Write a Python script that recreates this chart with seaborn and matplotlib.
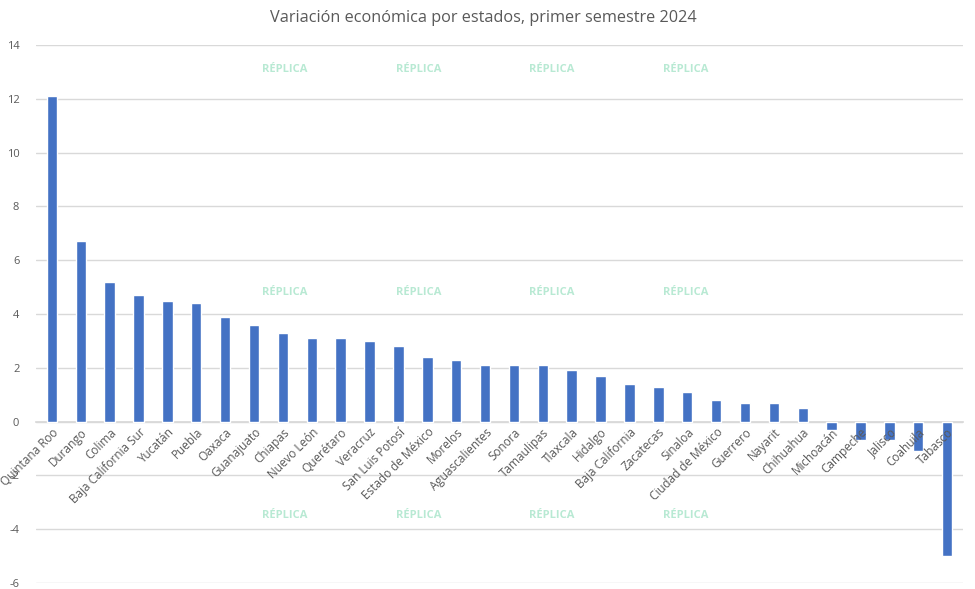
import numpy as np
import pandas as pd
import matplotlib
matplotlib.use('Agg')
import matplotlib.pyplot as plt
import seaborn as sns

# Data
estados = ['Quintana Roo', 'Durango', 'Colima', 'Baja California Sur', 'Yucatán', 'Puebla',
           'Oaxaca', 'Guanajuato', 'Chiapas', 'Nuevo León', 'Querétaro', 'Veracruz',
           'San Luis Potosí', 'Estado de México', 'Morelos', 'Aguascalientes', 'Sonora',
           'Tamaulipas', 'Tlaxcala', 'Hidalgo', 'Baja California', 'Zacatecas', 'Sinaloa',
           'Ciudad de México', 'Guerrero', 'Nayarit', 'Chihuahua', 'Michoacán', 'Campeche',
           'Jalisco', 'Coahuila', 'Tabasco']
variacion = [12.1, 6.7, 5.2, 4.7, 4.5, 4.4, 3.9, 3.6, 3.3, 3.1, 3.1, 3.0, 2.8, 2.4, 2.3,
             2.1, 2.1, 2.1, 1.9, 1.7, 1.4, 1.3, 1.1, 0.8, 0.7, 0.7, 0.5, -0.3, -0.7, -0.7,
             -1.1, -5.0]
y_ticks = [-6, -4, -2, 0, 2, 4, 6, 8, 10, 12, 14]

df = pd.DataFrame({'Estado': estados, 'Variacion': variacion})

sns.set_theme(style='white')
plt.rcParams['font.family'] = ['Open Sans', 'DejaVu Sans']
plt.rcParams['axes.unicode_minus'] = False

fig = plt.figure(figsize=(9.75, 5.89), dpi=100)
ax = fig.add_axes([36 / 975, 1 - 583 / 589, (963 - 36) / 975, (583 - 45) / 589])

sns.barplot(data=df, x='Estado', y='Variacion', color='#4472C4', width=0.36,
            saturation=1, ax=ax, zorder=3)

ax.set_ylim(-6, 14)
ax.set_yticks(y_ticks)
ax.set_xlim(-0.55, len(estados) - 0.45)
ax.yaxis.grid(True, color='#D9D9D9', linewidth=1, zorder=0)
ax.xaxis.grid(False)
for s in ['top', 'right', 'left']:
    ax.spines[s].set_visible(False)
ax.spines['bottom'].set_position(('data', 0))
ax.spines['bottom'].set_color('#D9D9D9')
ax.spines['bottom'].set_zorder(1)
# category labels sit on top of the negative bars, like in the original
ax.xaxis.set_zorder(5)

ax.tick_params(axis='y', length=0, labelsize=8, labelcolor='#595959', pad=12)
ax.tick_params(axis='x', length=0, labelsize=8.5, labelcolor='#595959', pad=3)
for lbl in ax.get_xticklabels():
    lbl.set_rotation(45)
    lbl.set_ha('right')
    lbl.set_rotation_mode('anchor')
ax.set_xlabel('')
ax.set_ylabel('')

fig.text(483 / 975, 1 - 18 / 589, 'Variación económica por estados, primer semestre 2024',
         ha='center', va='center', fontsize=11.7, color='#595959')

# faint watermarks
for wy in [70, 293, 516]:
    for wx in [285, 419, 552, 686]:
        fig.text(wx / 975, 1 - wy / 589, 'RÉPLICA', ha='center', va='center',
                 fontsize=8, color='#7FD8B0', alpha=0.55, fontweight='bold', zorder=0)

fig.savefig('out.png', dpi=100)
